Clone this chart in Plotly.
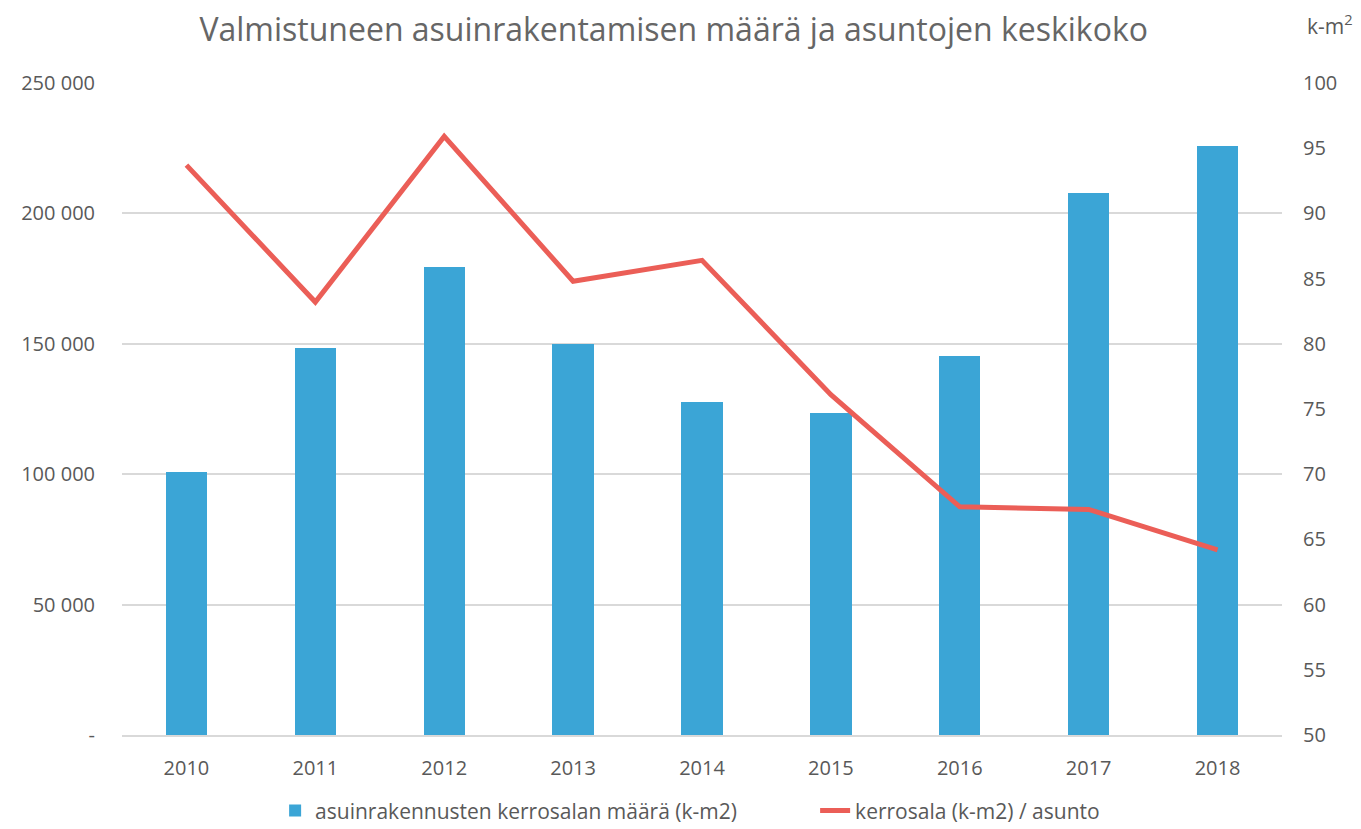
import plotly.graph_objects as go

years = ["2010", "2011", "2012", "2013", "2014", "2015", "2016", "2017", "2018"]
floor_area = [101000, 148400, 179500, 150000, 127500, 123500, 145500, 208000, 225700]
avg_size = [93.7, 83.2, 95.9, 84.8, 86.4, 76.1, 67.5, 67.3, 64.2]

left_ticks = [0, 50000, 100000, 150000, 200000, 250000]
left_labels = ["-", "50 000", "100 000", "150 000", "200 000", "250 000"]
right_ticks = [50, 55, 60, 65, 70, 75, 80, 85, 90, 95, 100]

FONT = "Open Sans"
GRAY = "#595959"

fig = go.Figure()
fig.add_trace(go.Bar(
    x=years, y=floor_area, name="asuinrakennusten kerrosalan määrä (k-m2)",
    marker=dict(color="#3BA5D6", line=dict(width=0)), width=0.32, yaxis="y",
))
fig.add_trace(go.Scatter(
    x=years, y=avg_size, name="kerrosala (k-m2) / asunto", mode="lines",
    line=dict(color="#EB5E57", width=5), yaxis="y2",
))

fig.update_layout(
    width=1361, height=829,
    margin=dict(l=122, r=79, t=83, b=94, autoexpand=False),
    paper_bgcolor="white", plot_bgcolor="white",
    font=dict(family=FONT, color=GRAY, size=20),
    title=dict(text="Valmistuneen asuinrakentamisen määrä ja asuntojen keskikoko",
               x=0.495, xanchor="center", y=0.964, yanchor="middle",
               font=dict(size=32, color="#666666", family=FONT)),
    xaxis=dict(showgrid=False, showline=True, linecolor="#d9d9d9", linewidth=1.5,
               tickfont=dict(size=20), ticklabelstandoff=14, zeroline=False,
               automargin=False),
    yaxis=dict(range=[0, 250000], tickvals=left_ticks, ticktext=left_labels,
               showgrid=True, gridcolor="#d9d9d9", gridwidth=1.5, zeroline=False,
               showline=False, tickfont=dict(size=20), ticklabelstandoff=26,
               automargin=False),
    yaxis2=dict(range=[50, 100], tickvals=right_ticks, overlaying="y", side="right",
                showgrid=False, zeroline=False, showline=False,
                tickfont=dict(size=20), ticklabelstandoff=20, automargin=False),
    legend=dict(orientation="h", x=0.132, xanchor="left", yref="container",
                y=0.022, yanchor="middle", font=dict(size=21), traceorder="normal",
                entrywidthmode="pixels", entrywidth=495),
    showlegend=True,
    bargap=0,
)

fig.add_annotation(text="k-m<sup>2</sup>", xref="paper", yref="paper",
                   x=1.041, y=1.089, xanchor="center", yanchor="middle",
                   showarrow=False, font=dict(size=21, color=GRAY, family=FONT))

fig.write_html("out.html", post_script="document.body.style.margin='0';",
               config={"displayModeBar": False})
